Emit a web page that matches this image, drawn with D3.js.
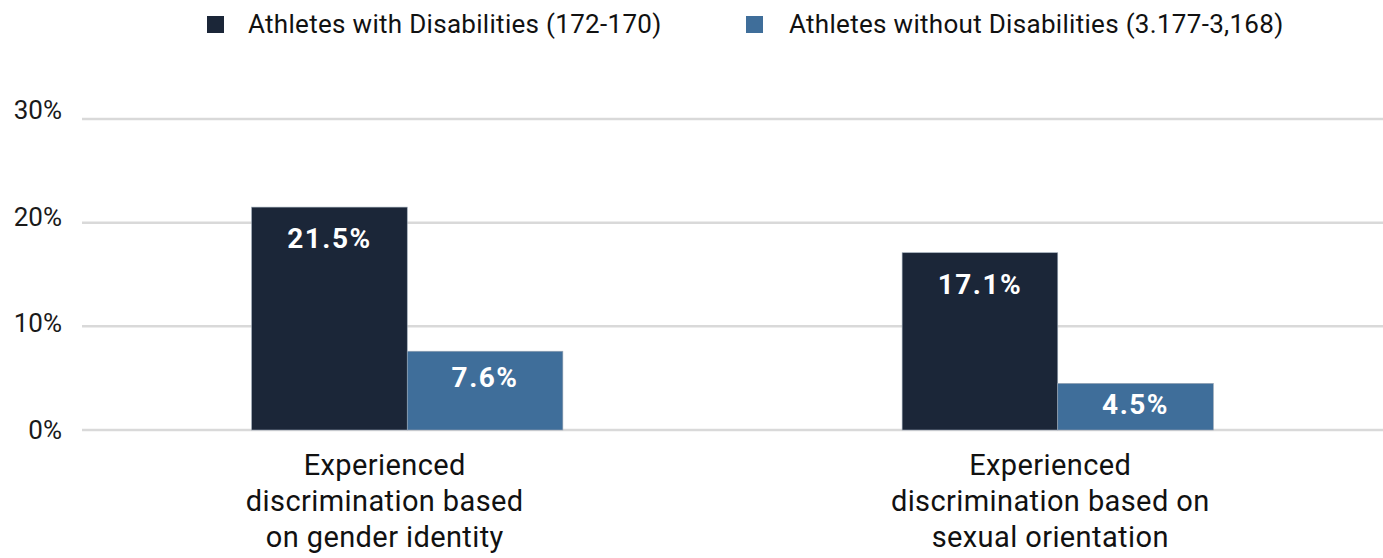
<!DOCTYPE html>
<html>
<head>
<meta charset="utf-8">
<script src="https://cdn.jsdelivr.net/npm/d3@7"></script>
<style>
  body { margin: 0; background: #fff; }
  svg { display: block; font-family: Roboto, "Noto Sans", sans-serif; }
</style>
</head>
<body>
<div id="chart"></div>
<script>
const categories = [
  ["Experienced", "discrimination based", "on gender identity"],
  ["Experienced", "discrimination based on", "sexual orientation"]
];
const seriesNames = [
  "Athletes with Disabilities (172-170)",
  "Athletes without Disabilities (3.177-3,168)"
];
const withDisabilities = [21.5, 17.1];
const withoutDisabilities = [7.6, 4.5];
const yTicks = [0, 10, 20, 30];

const WIDTH = 1383;
const HEIGHT = 558;
const margin = { top: 119, right: 0, bottom: 128, left: 82 };

const colorScale = d3.scaleOrdinal().domain(seriesNames).range(["#1b2638", "#3f6e9a"]);

const svg = d3.select("#chart").append("svg")
  .attr("width", WIDTH)
  .attr("height", HEIGHT);

const x0 = d3.scaleBand()
  .domain(d3.range(categories.length))
  .range([margin.left, WIDTH - margin.right])
  .padding(0);

// category labels are centred over a slightly wider band than the bars
const xLabel = d3.scaleBand()
  .domain(d3.range(categories.length))
  .range([52, WIDTH])
  .padding(0);

const x1 = d3.scaleBand()
  .domain(seriesNames)
  .range([0, x0.bandwidth()])
  .paddingInner(0)
  .paddingOuter(1.09);

const y = d3.scaleLinear()
  .domain([0, 30])
  .range([HEIGHT - margin.bottom, margin.top]);

// tick labels are spaced a bit wider than the grid in the original
const yLabel = d3.scaleLinear()
  .domain([0, 30])
  .range([430, 110]);

// grid lines
svg.append("g")
  .selectAll("line")
  .data(yTicks)
  .enter()
  .append("line")
  .attr("x1", margin.left)
  .attr("x2", WIDTH - margin.right)
  .attr("y1", (d) => y(d))
  .attr("y2", (d) => y(d))
  .style("stroke", "#d9d9d9")
  .style("stroke-width", 2.5);

// y labels
svg.append("g")
  .selectAll("text")
  .data(yTicks)
  .enter()
  .append("text")
  .attr("x", 62)
  .attr("y", (d) => yLabel(d) + 9)
  .attr("text-anchor", "end")
  .style("font-size", "26px")
  .style("fill", "#1a1a1a")
  .text((d) => d + "%");

const rows = categories.map((c, i) => ({
  i: i,
  values: [
    { key: seriesNames[0], value: withDisabilities[i] },
    { key: seriesNames[1], value: withoutDisabilities[i] }
  ]
}));

const groups = svg.selectAll("g.group")
  .data(rows)
  .enter()
  .append("g")
  .attr("class", "group")
  .attr("transform", (d) => "translate(" + x0(d.i) + ",0)");

groups.selectAll("rect")
  .data((d) => d.values)
  .enter()
  .append("rect")
  .attr("x", (d) => x1(d.key))
  .attr("y", (d) => y(d.value))
  .attr("width", x1.bandwidth())
  .attr("height", (d) => y(0) - y(d.value))
  .style("fill", (d) => colorScale(d.key))
  .style("stroke", "#9aa6b4")
  .style("stroke-width", 0.6);

function labelOffset(d) {
  const h = y(0) - y(d.value);
  return h > 100 ? 41 : 24 + h * 0.15;
}

groups.selectAll("text.value")
  .data((d) => d.values)
  .enter()
  .append("text")
  .attr("class", "value")
  .attr("x", (d) => x1(d.key) + x1.bandwidth() / 2)
  .attr("y", (d) => y(d.value) + labelOffset(d))
  .attr("text-anchor", "middle")
  .style("font-size", "28px")
  .style("font-weight", "bold")
  .style("letter-spacing", "1.5px")
  .style("fill", "#ffffff")
  .text((d) => d.value.toFixed(1) + "%");

// category labels
rows.forEach((d) => {
  const t = svg.append("text")
    .attr("class", "category")
    .attr("text-anchor", "middle")
    .style("font-size", "29px")
    .style("letter-spacing", "0.4px")
    .style("fill", "#111");
  categories[d.i].forEach((line, k) => {
    t.append("tspan")
      .attr("x", xLabel(d.i) + xLabel.bandwidth() / 2)
      .attr("y", 475 + k * 36)
      .text(line);
  });
});

// legend
const legendPos = [207, 746];
const legend = svg.selectAll("g.legend")
  .data(seriesNames)
  .enter()
  .append("g")
  .attr("class", "legend")
  .attr("transform", (d, i) => "translate(" + legendPos[i] + ",16)");

legend.append("rect")
  .attr("width", 17)
  .attr("height", 17)
  .style("fill", (d) => colorScale(d));

legend.append("text")
  .attr("x", (d, i) => (i === 0 ? 41 : 43))
  .attr("y", 17)
  .style("font-size", "26px")
  .style("letter-spacing", "0.3px")
  .style("fill", "#111")
  .text((d) => d);
</script>
</body>
</html>
